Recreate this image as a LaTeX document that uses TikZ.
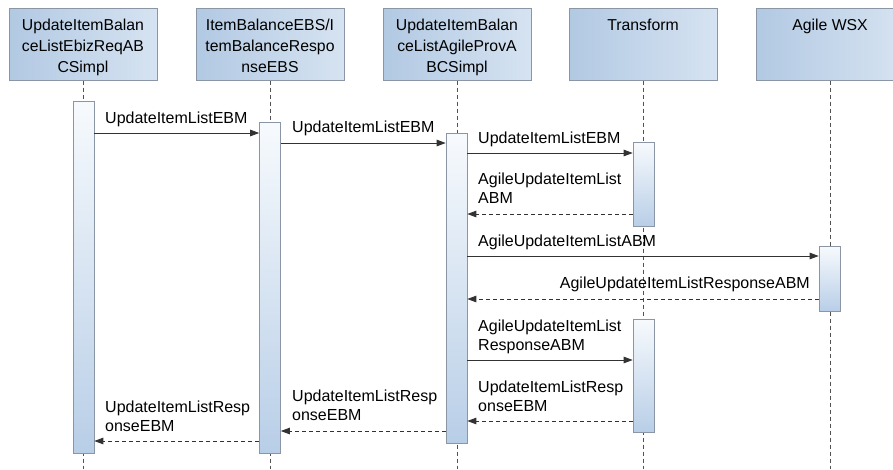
\documentclass[tikz,border=0pt]{standalone}
\usepackage{fontspec}
\setmainfont{Liberation Sans}
\usetikzlibrary{arrows.meta,calc}
\definecolor{hdrA}{RGB}{178,201,227}
\definecolor{hdrB}{RGB}{214,227,241}
\definecolor{barTop}{RGB}{247,250,253}
\definecolor{barBot}{RGB}{184,206,231}
\definecolor{edgeC}{RGB}{138,150,166}
\definecolor{lineC}{RGB}{50,50,50}
\begin{document}
\begin{tikzpicture}[x=1pt,y=-1pt,
 hdr/.style={draw=edgeC, line width=0.6pt, left color=hdrA, right color=hdrB, minimum width=148pt, minimum height=72pt, anchor=north, inner sep=0pt},
 htext/.style={anchor=north, align=center, inner sep=0pt, font=\fontsize{15.8}{21}\selectfont},
 bar/.style={draw=edgeC, line width=0.6pt, top color=barTop, bottom color=barBot, minimum width=21pt, anchor=north, inner sep=0pt},
 life/.style={draw=lineC!85, line width=0.7pt, dash pattern=on 4pt off 3pt},
 msg/.style={draw=lineC, line width=0.9pt, -{Triangle[length=9pt,width=6.5pt]}},
 ret/.style={msg, dash pattern=on 4pt off 3pt},
 lbl/.style={anchor=north west, align=left, inner sep=0pt, font=\fontsize{16}{19.5}\selectfont},
]
\useasboundingbox (0,0) rectangle (893,469);

% header boxes
\node[hdr] (h1) at (83,8) {};
\node[hdr] (h2) at (270,8) {};
\node[hdr] (h3) at (457,8) {};
\node[hdr] (h4) at (643,8) {};
\node[hdr] (h5) at (830,8) {};
\node[htext] (t1) at (83,18.5) {UpdateItemBalan\\ceListEbizReqAB\\CSimpl};
\node[htext] (t2) at (270,18.5) {ItemBalanceEBS/I\\temBalanceRespo\\nseEBS};
\node[htext] (t3) at (457,18.5) {UpdateItemBalan\\ceListAgileProvA\\BCSimpl};
\node[htext] (t4) at (643,18.5) {Transform};
\node[htext] (t5) at (830,18.5) {Agile WSX};

% lifelines
\coordinate (e1) at (83,469);
\coordinate (e2) at (270,469);
\coordinate (e3) at (457,469);
\coordinate (e4) at (643,469);
\coordinate (e5) at (830,469);
\draw[life] (h1.south) -- (e1);
\draw[life] (h2.south) -- (e2);
\draw[life] (h3.south) -- (e3);
\draw[life] (h4.south) -- (e4);
\draw[life] (h5.south) -- (e5);

% activation bars
\node[bar, minimum height=352pt] (b1) at (83.5,101) {};
\node[bar, minimum height=331pt] (b2) at (270,122) {};
\node[bar, minimum height=310pt] (b3) at (456.5,133) {};
\node[bar, minimum height=84pt] (b4) at (643.5,142) {};
\node[bar, minimum height=65pt] (b5) at (829.5,246) {};
\node[bar, minimum height=113pt] (b6) at (643.5,319) {};

% messages
\draw[msg] (b1.east |- 0,133) -- (b2.west |- 0,133);
\node[lbl] (l1) at (105,111.5) {UpdateItemListEBM};

\draw[msg] (b2.east |- 0,143) -- (b3.west |- 0,143);
\node[lbl] (l2) at (292,120.5) {UpdateItemListEBM};

\draw[msg] (b3.east |- 0,153) -- (b4.west |- 0,153);
\node[lbl] (l3) at (478,131.5) {UpdateItemListEBM};

\draw[ret] (b4.west |- 0,214) -- (b3.east |- 0,214);
\node[lbl] (l4) at (478,172.5) {AgileUpdateItemList\\ABM};

\draw[msg] (b3.east |- 0,256) -- (b5.west |- 0,256);
\node[lbl] (l5) at (478,234.5) {AgileUpdateItemListABM};

\draw[ret] (b5.west |- 0,299) -- (b3.east |- 0,299);
\node[lbl, anchor=north east] (l6) at (810,276.5) {AgileUpdateItemListResponseABM};

\draw[msg] (b3.east |- 0,360) -- (b6.west |- 0,360);
\node[lbl] (l7) at (478,319.5) {AgileUpdateItemList\\ResponseABM};

\draw[ret] (b6.west |- 0,421) -- (b3.east |- 0,421);
\node[lbl] (l8) at (478,380.5) {UpdateItemListResp\\onseEBM};

\draw[ret] (b3.west |- 0,431) -- (b2.east |- 0,431);
\node[lbl] (l9) at (292,389.5) {UpdateItemListResp\\onseEBM};

\draw[ret] (b2.west |- 0,441) -- (b1.east |- 0,441);
\node[lbl] (l10) at (105,400.5) {UpdateItemListResp\\onseEBM};
\end{tikzpicture}
\end{document}
